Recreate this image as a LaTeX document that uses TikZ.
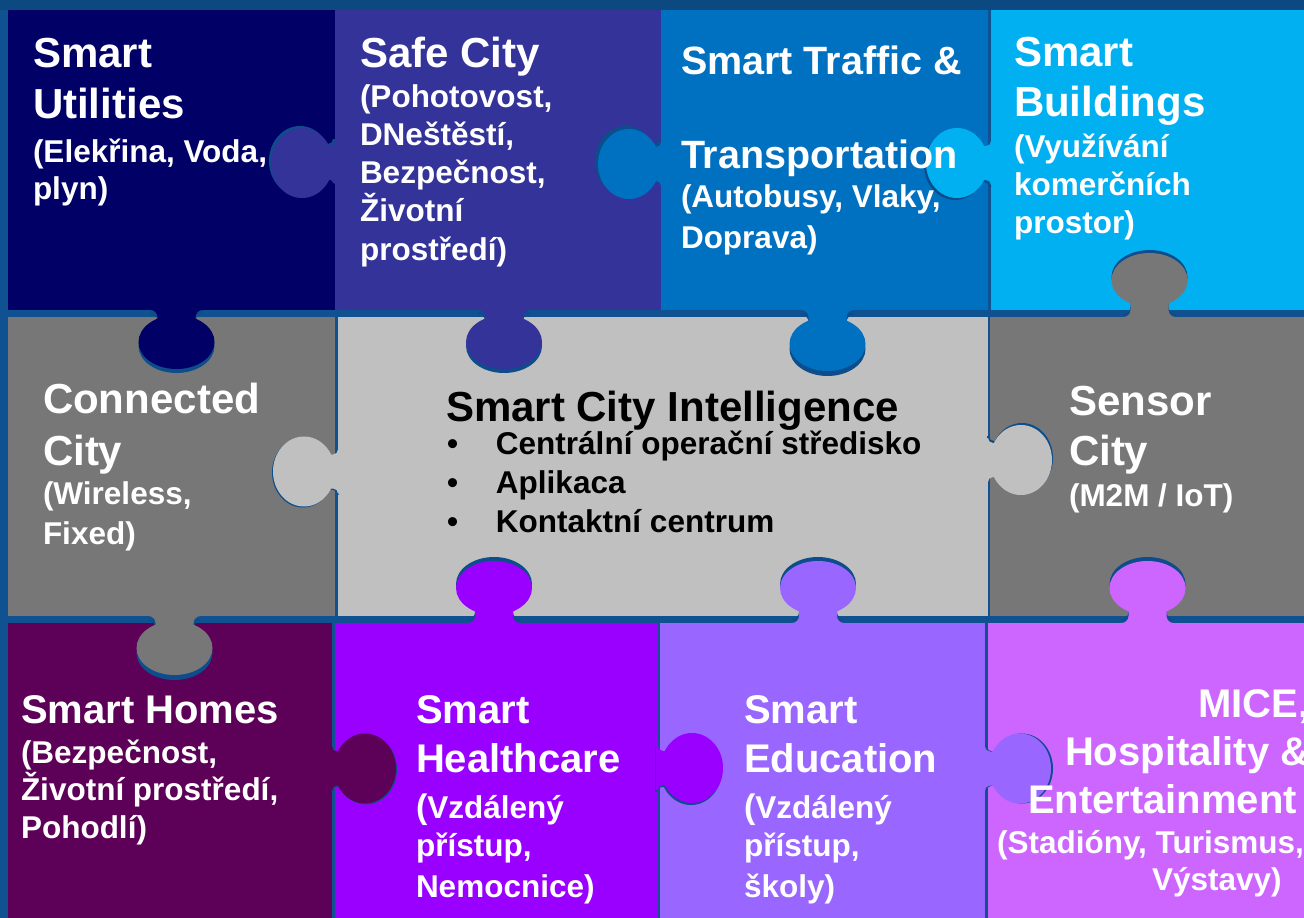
\documentclass[tikz,border=0pt]{standalone}
\usepackage{fontspec}
\setmainfont{Liberation Sans}
\definecolor{bgc}{HTML}{0F5191}
\definecolor{topc}{HTML}{0B4980}
\definecolor{lnc}{HTML}{0E4D8B}
\definecolor{cU}{HTML}{000066}
\definecolor{cS}{HTML}{333399}
\definecolor{cT}{HTML}{0070C0}
\definecolor{cB}{HTML}{00B0F0}
\definecolor{cG}{HTML}{777777}
\definecolor{cL}{HTML}{C0C0C0}
\definecolor{cH}{HTML}{5D0057}
\definecolor{cHC}{HTML}{9900FF}
\definecolor{cE}{HTML}{9966FF}
\definecolor{cM}{HTML}{CC66FF}
\tikzset{
  kdown/.code={\tikzset{x={(0pt,-1pt)},y={(1pt,0pt)}}\def\ka{27}\def\kb{38}\def\kn{19}\def\kf{7}},
  kup/.code={\tikzset{x={(0pt,1pt)},y={(1pt,0pt)}}\def\ka{27}\def\kb{38}\def\kn{19}\def\kf{7}},
  kleft/.code={\tikzset{x={(-1pt,0pt)},y={(0pt,1pt)}}\def\ka{31}\def\kb{35}\def\kn{17}\def\kf{5}},
  kright/.code={\tikzset{x={(1pt,0pt)},y={(0pt,1pt)}}\def\ka{31}\def\kb{35}\def\kn{17}\def\kf{5}},
  lbl/.style={anchor=base west, inner sep=0pt, outer sep=0pt, text=white, font=\bfseries},
}
\newcommand\kneck{(-2,{-\kn-\kf}) -- (0,{-\kn-\kf}) .. controls (0,{-\kn-0.45*\kf}) and ({0.45*\kf},{-\kn}) .. (\kf,{-\kn}) -- (\kc,{-\kn}) -- (\kc,\kn) -- (\kf,\kn) .. controls ({0.45*\kf},\kn) and (0,{\kn+0.45*\kf}) .. (0,{\kn+\kf}) -- (-2,{\kn+\kf}) -- cycle}
\newcommand\kbulb{({\kc+\ka},0) .. controls ({\kc+\ka},{0.5523*\kb}) and ({\kc+0.5523*\ka},\kb) .. (\kc,\kb) .. controls ({\kc-0.5523*\ka},\kb) and ({\kc-\ka},{0.5523*\kb}) .. ({\kc-\ka},0) .. controls ({\kc-\ka},{-0.5523*\kb}) and ({\kc-0.5523*\ka},{-\kb}) .. (\kc,{-\kb}) .. controls ({\kc+0.5523*\ka},{-\kb}) and ({\kc+\ka},{-0.5523*\kb}) .. ({\kc+\ka},0) -- cycle}
\newcommand\knob[7]{%
  \begin{scope}[shift={({#1+(#6)},{#2+(#7)})},#3]\def\kc{#4}\fill[lnc] \kneck; \fill[lnc] \kbulb;\end{scope}
  \begin{scope}[shift={(#1,#2)},#3]\def\kc{#4}\fill[#5] \kneck; \fill[#5] \kbulb;\end{scope}}
\newcommand\Tf{\fontsize{42}{50}\selectfont}
\newcommand\Tt{\fontsize{39.5}{47}\selectfont}
\newcommand\Tr{\fontsize{40}{48}\selectfont}
\newcommand\Sf{\fontsize{31.5}{38}\selectfont}
\newcommand\Bp{{\fontsize{34}{38}\selectfont(}}
\newcommand\Ln[2]{\baselineskip=#1pt\relax\hbox{#2}}
\newcommand\Lines[1]{\vtop{\lineskiplimit=-\maxdimen\lineskip=0pt\relax #1}}
\begin{document}
\begin{tikzpicture}[x=1pt,y=-1pt]
\useasboundingbox (0,0) rectangle (1304,918);
\clip (0,0) rectangle (1304,918);
\fill[bgc] (0,0) rectangle (1304,918);
\fill[topc] (0,0) rectangle (1304,10);
% cells
\fill[cU] (8,10) rectangle (335,310);
\fill[cS] (335,10) rectangle (661,310);
\fill[cT] (661,10) rectangle (988,310);
\fill[cB] (991,10) rectangle (1304,310);
\fill[cG] (8,317) rectangle (335,616);
\fill[cL] (338,317) rectangle (988,616);
\fill[cG] (990,317) rectangle (1304,616);
\fill[cH] (8,623) rectangle (332,918);
\fill[cHC] (334.5,623) rectangle (658,918);
\fill[cE] (660,623) rectangle (985,918);
\fill[cM] (988,623) rectangle (1304,918);
% knobs
\knob{335}{163}{kleft}{33}{cS}{-2}{-2}
\knob{661}{164}{kleft}{32}{cT}{-3}{-3}
\knob{991}{163}{kleft}{34}{cB}{-2}{2}
\knob{176.5}{310}{kdown}{32}{cU}{0}{4}
\knob{504}{310}{kdown}{32}{cS}{0}{4}
\knob{827.5}{310}{kdown}{34}{cT}{0}{5}
\knob{1149.5}{317}{kup}{37}{cG}{0}{-3}
\knob{338}{471.5}{kleft}{34}{cL}{-1}{1}
\knob{988}{460}{kright}{33}{cL}{1}{-2}
\knob{174.5}{616}{kdown}{32}{cG}{0}{5}
\knob{494}{623}{kup}{35}{cHC}{0}{-4}
\knob{818}{623}{kup}{35}{cE}{0}{-4}
\knob{1147.5}{623}{kup}{35}{cM}{0}{-4}
\knob{332}{768.5}{kright}{33}{cH}{1}{1}
\knob{658}{768}{kright}{34}{cHC}{-1}{2}
\knob{985}{768.5}{kright}{35}{cE}{2}{0}
% texts
\node[lbl] (tU) at (33,67) {\Lines{\Ln{0}{\Tf Smart}\Ln{51}{\Tf Utilities}\Ln{44}{\Sf (Elekřina, Voda,}\Ln{37}{\Sf plyn)}}};
\node[lbl] (tS) at (360,67) {\Lines{\Ln{0}{\Tf Safe City}\Ln{40}{\Sf (Pohotovost,}\Ln{38.3}{\Sf DNeštěstí,}\Ln{38.3}{\Sf Bezpečnost,}\Ln{38.3}{\Sf Životní}\Ln{38.3}{\Sf prostředí)}}};
\node[lbl] (tT) at (681,74) {\Lines{\Ln{0}{\Tt Smart Traffic \&}\Ln{94}{\Tt Transportation}\Ln{40}{\Sf (Autobusy, Vlaky,}\Ln{40}{\Sf Doprava)}}};
\node[lbl] (tB) at (1014,66) {\Lines{\Ln{0}{\Tf Smart}\Ln{51}{\Tf Buildings}\Ln{40}{\Sf (Využívání}\Ln{38}{\Sf komerčních}\Ln{38}{\Sf prostor)}}};
\node[lbl] (tC) at (43,413) {\Lines{\Ln{0}{\Tf Connected}\Ln{52}{\Tf City}\Ln{39}{\Sf (Wireless,}\Ln{40}{\Sf Fixed)}}};
\node[lbl, text=black] (tI) at (446,421) {\Lines{\Ln{0}{\Tf Smart City Intelligence}\Ln{33}{\Sf\kern1pt\makebox[49pt][l]{•}Centrální operační středisko}\Ln{39}{\Sf\kern1pt\makebox[49pt][l]{•}Aplikaca}\Ln{39}{\Sf\kern1pt\makebox[49pt][l]{•}Kontaktní centrum}}};
\node[lbl] (tN) at (1069,415) {\Lines{\Ln{0}{\Tf Sensor}\Ln{50}{\Tf City}\Ln{41}{\Sf (M2M / IoT)}}};
\node[lbl] (tH) at (21,723) {\Lines{\Ln{0}{\Tr Smart Homes}\Ln{40}{\Sf (Bezpečnost,}\Ln{37}{\Sf Životní prostředí,}\Ln{38}{\Sf Pohodlí)}}};
\node[lbl] (tHC) at (416,723) {\Lines{\Ln{0}{\Tr Smart}\Ln{49}{\Tr Healthcare}\Ln{46}{\Sf \Bp Vzdálený}\Ln{38}{\Sf přístup,}\Ln{41}{\Sf Nemocnice)}}};
\node[lbl] (tE) at (744,723) {\Lines{\Ln{0}{\Tr Smart}\Ln{49}{\Tr Education}\Ln{46}{\Sf \Bp Vzdálený}\Ln{38}{\Sf přístup,}\Ln{41}{\Sf školy)}}};
\node[lbl] (tM) at (997,717) {\Lines{\Ln{0}{\Tr\kern201pt MICE,}\Ln{48}{\Tr\kern68pt Hospitality \&}\Ln{48}{\Tr\kern31pt Entertainment}\Ln{40}{\Sf (Stadióny, Turismus,}\Ln{37}{\Sf\kern155pt Výstavy)}}};
\end{tikzpicture}
\end{document}
